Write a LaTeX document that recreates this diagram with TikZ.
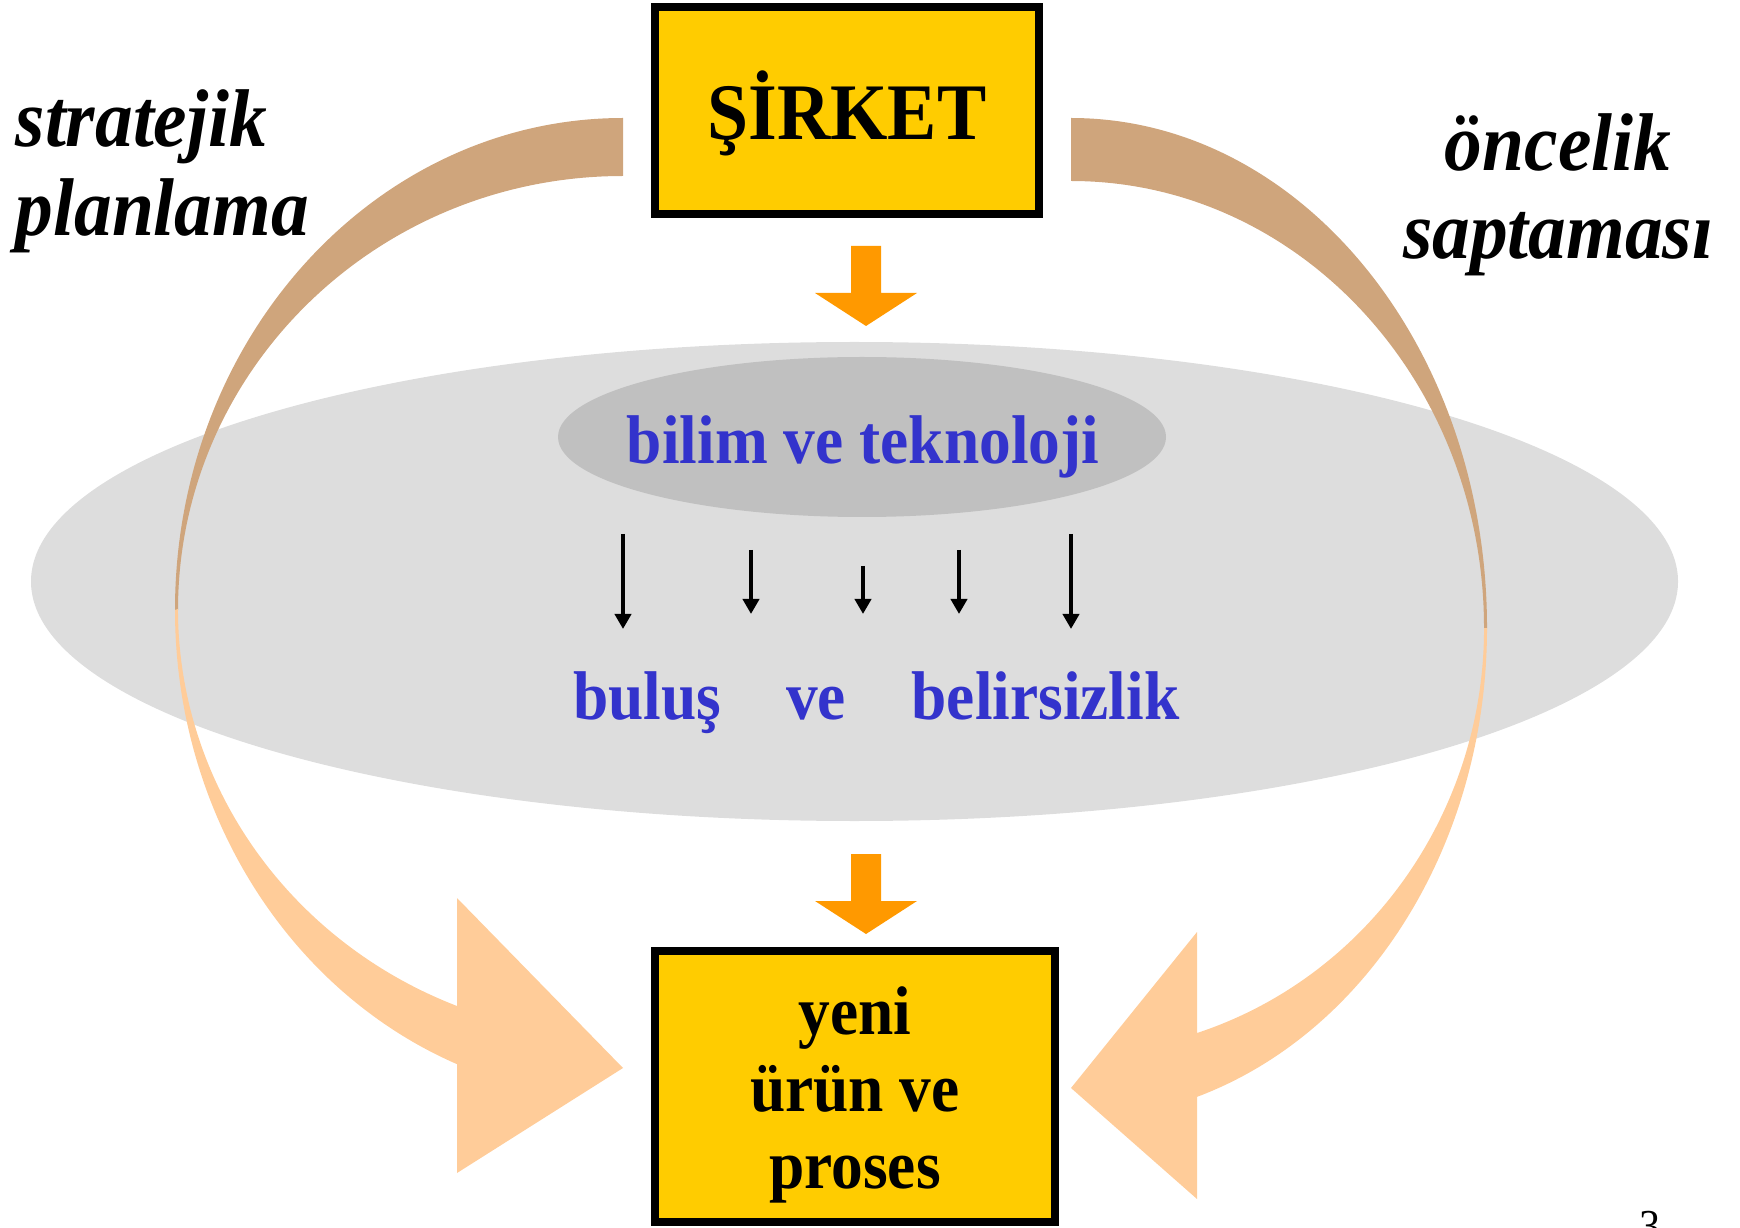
\documentclass[tikz,border=0pt]{standalone}
\usepackage{fontspec}
\setmainfont{Liberation Serif}[FakeStretch=0.92]
\usepackage{tikz}
\usetikzlibrary{arrows.meta}

\definecolor{sirketyellow}{HTML}{FFCC00}
\definecolor{oklabrown}{HTML}{CFA57C}
\definecolor{oklapeach}{HTML}{FFCC99}
\definecolor{blockorange}{HTML}{FF9900}
\definecolor{outergray}{HTML}{DDDDDD}
\definecolor{innergray}{HTML}{C0C0C0}
\definecolor{textblue}{HTML}{3333CC}

\begin{document}
\begin{tikzpicture}[x=0.01cm, y=-0.01cm,
    kutu/.style={draw=black, line width=0.085cm, fill=sirketyellow, inner sep=0pt},
    mavi/.style={text=textblue, font=\fontsize{19.6}{21}\selectfont\bfseries, inner sep=0pt, anchor=base},
    yan/.style={font=\fontsize{23.3}{25.3}\selectfont\bfseries\itshape, inner sep=0pt},
    blok/.style={fill=blockorange},
    ok/.style={line width=1.35pt, -{Triangle[width=4.6pt, length=4.3pt]}}]
    \useasboundingbox (0,0) rectangle (1740,1228);

    % Ellipses
    \fill[outergray] (854.5,581.5) ellipse[x radius=823.5, y radius=239.5];
    \fill[innergray] (862,437) ellipse[x radius=304, y radius=80];

    % Left curved arrow
    \fill[oklabrown] (623,118) arc[start angle=270, end angle=180, x radius=448, y radius=492]
      -- (178,610) arc[start angle=180, end angle=270, x radius=445, y radius=434] -- cycle;
    \fill[oklapeach] (175,610) arc[start angle=180, end angle=111.75, x radius=448, y radius=489]
      -- (457,1173) -- (623,1068) -- (457,898) -- (457,1006)
      arc[start angle=111.9, end angle=180, x radius=445, y radius=428] -- cycle;

    % Right curved arrow
    \fill[oklabrown] (1071,118) arc[start angle=270, end angle=360, x radius=416, y radius=510]
      -- (1484,628) arc[start angle=0, end angle=-90, x radius=413, y radius=447] -- cycle;
    \fill[oklapeach] (1487,628) arc[start angle=0, end angle=72.37, x radius=416, y radius=492]
      -- (1197,1199) -- (1071,1088) -- (1197,932) -- (1197,1033)
      arc[start angle=72.24, end angle=0, x radius=413, y radius=425] -- cycle;

    % Block arrows
    \foreach \dy in {0,608}
      \fill[blok, shift={(0,\dy)}] (851,246) -- (881,246) -- (881,293) -- (917,293)
        -- (866,326) -- (815,293) -- (851,293) -- cycle;

    % Boxes
    \node[kutu, minimum width=3.835cm, minimum height=2.065cm, text height=0.57cm, text depth=0pt,
      font=\fontsize{22.8}{24}\selectfont\bfseries] (sirket) at (847,110.5) {ŞİRKET};
    \node[kutu, minimum width=3.995cm, minimum height=2.705cm, align=center,
      font=\fontsize{19.6}{21.9}\selectfont\bfseries] (urun) at (855,1086.5)
      {\rule{0pt}{0.65cm}yeni\\ürün ve\\proses};

    % Middle texts
    \node[mavi] (bilim) at (863,464) {bilim ve teknoloji};
    \node[mavi] (bulus) at (647.5,719) {buluş};
    \node[mavi] (ve) at (816,719) {ve};
    \node[mavi] (belirsiz) at (1045.5,719) {belirsizlik};

    % Small arrows
    \foreach \x/\t/\b in {623/534/629, 751/550/614, 863/566/614, 959/550/614, 1071/534/629}
      \draw[ok] (\x,\t) -- (\x,\b);

    % Side labels
    \node[yan, anchor=north west, align=left] (strateji) at (15,89) {stratejik\\planlama};
    \node[yan, anchor=north, align=center, font=\fontsize{23.3}{25}\selectfont\bfseries\itshape]
      (oncelik) at (1558,113) {öncelik\\saptaması};

    \node[font=\fontsize{13}{15}\selectfont, anchor=base, inner sep=0pt] (sayfa) at (1650,1241) {3};
\end{tikzpicture}
\end{document}
